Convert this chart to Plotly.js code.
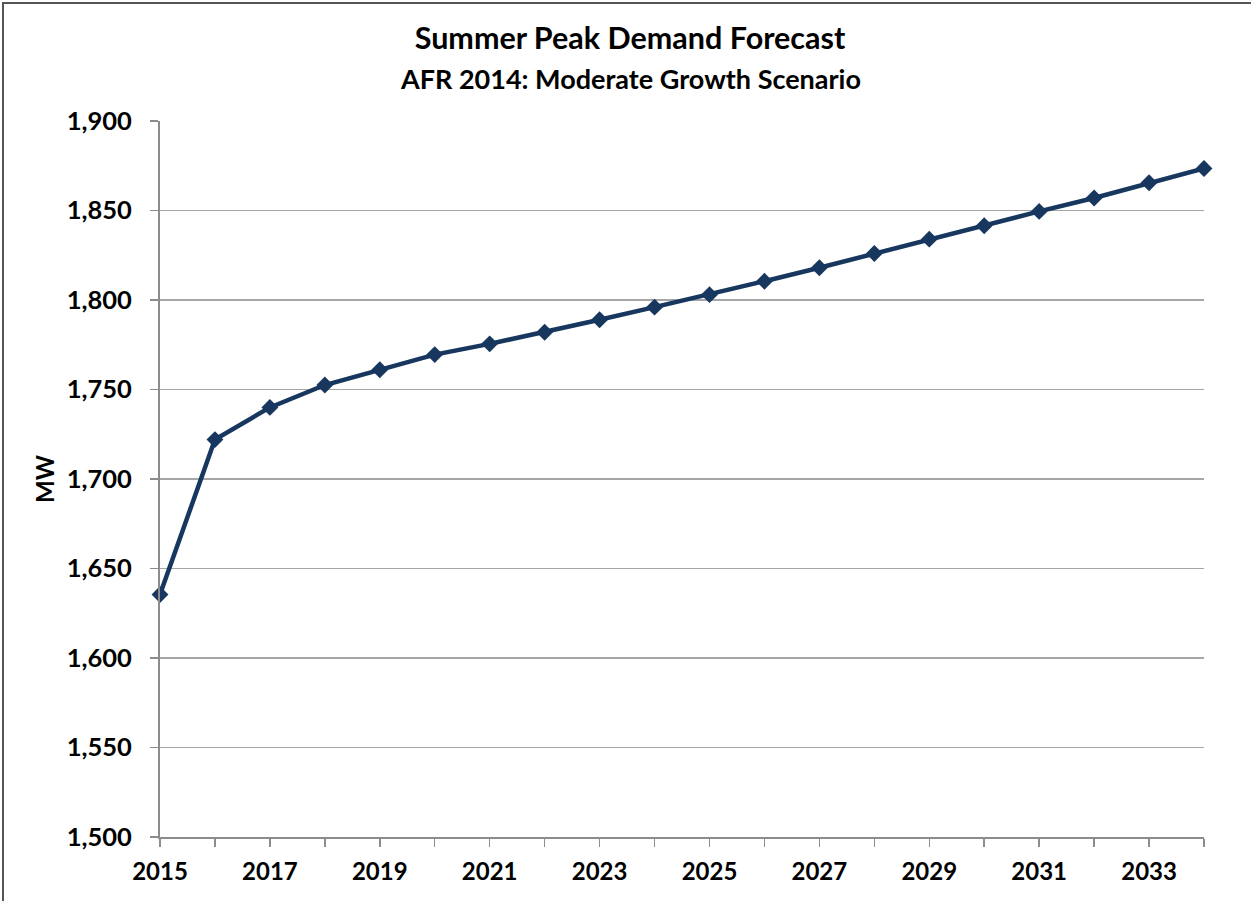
<!DOCTYPE html>
<html>
<head>
<meta charset="utf-8">
<script src="https://cdn.plot.ly/plotly-3.0.1.min.js"></script>
<style>
html, body { margin: 0; padding: 0; background: #fff; }
#wrap { position: relative; width: 1251px; height: 901px; }
#chart { position: absolute; left: 0; top: 0; width: 1251px; height: 901px; }
#frame { position: absolute; left: 2px; top: 2px; width: 1260px; height: 910px;
         border-left: 2px solid #555; border-top: 2px solid #555; pointer-events: none; }
</style>
</head>
<body>
<div id="wrap">
  <div id="chart"></div>
  <div id="frame"></div>
</div>
<script>
const years = [2015, 2016, 2017, 2018, 2019, 2020, 2021, 2022, 2023, 2024,
               2025, 2026, 2027, 2028, 2029, 2030, 2031, 2032, 2033, 2034];
const peakMW = [1635.5, 1722, 1740, 1752.5, 1761, 1769.5, 1775.5, 1782, 1789, 1796,
                1803, 1810.5, 1818, 1826, 1834, 1841.5, 1849.5, 1857, 1865.5, 1873.5];
const titleText = 'Summer Peak Demand Forecast';
const subtitleText = 'AFR 2014: Moderate Growth Scenario';
const yTitle = 'MW';

const FONT = 'Lato, "Open Sans", sans-serif';

const trace = {
  x: years,
  y: peakMW,
  type: 'scatter',
  mode: 'lines+markers',
  line: { color: '#17375E', width: 4.5 },
  marker: { symbol: 'diamond', size: 13, color: '#17375E' },
  cliponaxis: false,
  hoverinfo: 'x+y'
};

const layout = {
  width: 1251,
  height: 901,
  paper_bgcolor: '#ffffff',
  plot_bgcolor: '#ffffff',
  showlegend: false,
  margin: { l: 160, r: 47, t: 121, b: 64, pad: 0 },
  font: { family: FONT, color: '#000', size: 22 },
  title: {
    text: titleText,
    font: { family: FONT, size: 30.5, color: '#000', weight: 'bold' },
    x: 0.5036, xanchor: 'center',
    y: 0.958, yanchor: 'middle'
  },
  annotations: [{
    text: subtitleText,
    xref: 'paper', yref: 'paper',
    x: 0.4502, y: 1.0587, xanchor: 'center', yanchor: 'middle',
    showarrow: false,
    font: { family: FONT, size: 27, color: '#000', weight: 'bold' }
  }],
  xaxis: {
    range: [2015, 2034],
    tick0: 2015, dtick: 2,
    ticks: 'outside', ticklen: 8, tickwidth: 1.5, tickcolor: '#8c8c8c',
    minor: { dtick: 1, tick0: 2015, ticks: 'outside', ticklen: 8, tickwidth: 1.5, tickcolor: '#8c8c8c', showgrid: false },
    showline: true, linecolor: '#8c8c8c', linewidth: 2,
    showgrid: false, zeroline: false,
    tickfont: { family: FONT, size: 24, color: '#000', weight: 'bold' },
    tickformat: 'd',
    ticklabelstandoff: 4
  },
  yaxis: {
    range: [1500, 1900],
    dtick: 50,
    ticks: 'outside', ticklen: 8, tickwidth: 1.5, tickcolor: '#8c8c8c',
    showline: true, linecolor: '#8c8c8c', linewidth: 2,
    showgrid: true, gridcolor: '#a6a6a6', gridwidth: 1.5,
    zeroline: false,
    tickformat: ',d',
    tickfont: { family: FONT, size: 25.5, color: '#000', weight: 'bold' },
    ticklabelstandoff: 13,
    title: { text: yTitle, font: { family: FONT, size: 24, color: '#000', weight: 'bold' }, standoff: 5 }
  }
};

Plotly.newPlot('chart', [trace], layout, { displayModeBar: false, staticPlot: true });
</script>
</body>
</html>
